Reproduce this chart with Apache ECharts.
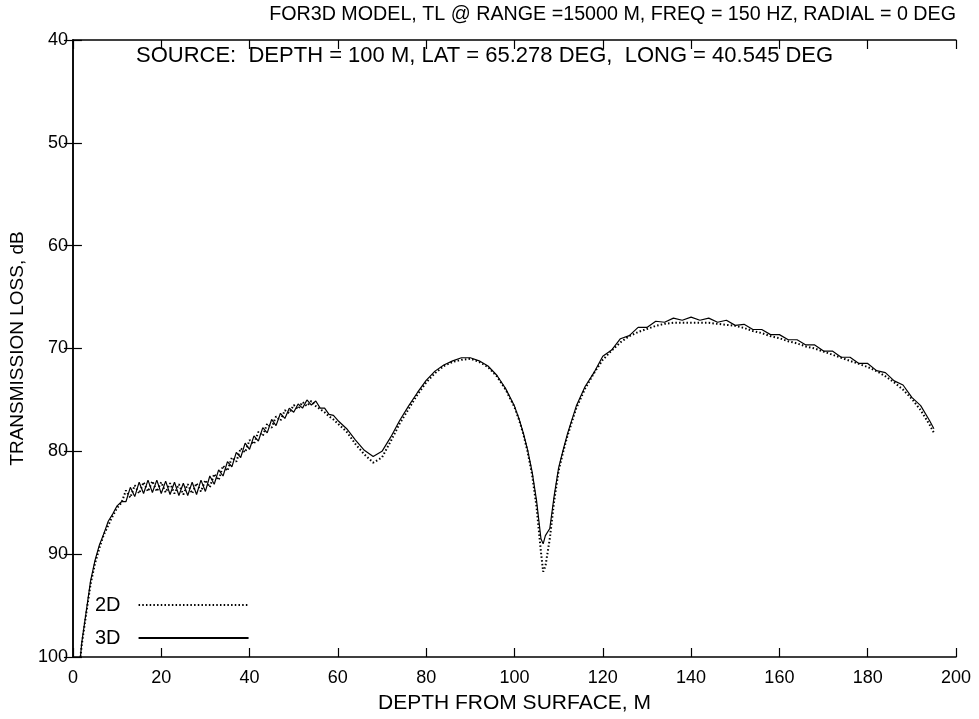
<!DOCTYPE html>
<html>
<head>
<meta charset="utf-8">
<script src="https://cdn.jsdelivr.net/npm/echarts@6/dist/echarts.min.js"></script>
<style>
html,body{margin:0;padding:0;background:#fff;}
#chart{width:979px;height:719px;}
</style>
</head>
<body>
<div id="chart"></div>
<script>
// ---- data ----
const depth = [1.7,2,3,4,5,6,7,8,9,10,11,12,13,14,15,16,17,18,19,20,21,22,23,24,25,26,27,28,29,30,
  31,32,33,34,35,36,37,38,39,40,41,42,43,44,45,46,47,48,49,50,51,52,53,54,55,56,57,58,59,60,
  62,64,66,68,70,72,74,76,78,80,82,84,86,88,90,92,94,96,98,100,101,102,103,104,105,106,106.5,107,108,109,110,111,112,
  114,116,118,120,122,124,126,128,130,132,134,136,138,140,142,144,146,148,150,152,154,156,158,160,
  162,164,166,168,170,172,174,176,178,180,182,184,186,188,190,192,194,195];

const tl3D = [100,98.6,95.6,92.6,90.6,89.1,88.0,86.8,86.1,85.3,84.9,84.9,83.5,84.4,83.0,84.1,82.8,84.0,82.8,84.1,
  82.9,84.2,83.0,84.3,83.1,84.3,83.0,84.2,82.8,83.9,
  82.4,83.2,81.8,82.4,81.0,81.5,80.1,80.6,79.2,79.8,78.5,79.0,77.7,78.2,76.9,77.5,76.3,76.8,75.8,76.2,
  75.4,75.8,75.0,75.5,75.1,75.8,75.8,76.4,76.5,77.0,
  77.8,78.9,79.9,80.5,80.0,78.6,77.0,75.6,74.3,73.1,72.2,71.6,71.2,70.9,70.9,71.2,71.7,72.6,73.9,75.6,
  76.8,78.2,79.9,82.0,84.8,88.5,89.0,88.2,87.5,84.3,81.6,79.9,78.3,
  75.6,73.7,72.35,70.75,70.15,69.05,68.75,67.95,67.95,67.35,67.45,67.05,67.25,66.95,67.25,67.05,67.45,67.25,67.75,67.65,
  68.15,68.15,68.65,68.65,69.15,69.15,69.65,69.65,70.25,70.25,70.85,70.85,71.45,71.45,72.15,72.35,73.15,73.55,74.75,75.55,77.0,77.8];

const tl2D = [100,98.8,95.8,92.9,90.9,89.4,88.1,87.2,86.3,85.5,85.0,83.8,84.5,83.3,84.1,83.0,83.9,82.9,83.9,83.0,
  84.0,83.1,84.1,83.2,84.2,83.2,84.1,83.1,83.9,82.8,
  83.5,82.2,82.8,81.4,81.9,80.6,81.0,79.7,80.1,78.9,79.3,78.1,78.5,77.3,77.7,76.6,77.0,76.0,76.3,75.5,
  75.9,75.2,75.6,75.1,75.6,75.9,76.2,76.6,76.9,77.3,
  78.1,79.3,80.3,81.1,80.6,79.0,77.3,75.9,74.5,73.3,72.4,71.7,71.3,71.1,71.0,71.3,71.8,72.7,74.0,75.7,
  76.9,78.3,80.1,82.3,85.4,89.8,91.7,91.2,88.5,84.8,81.9,80.1,78.5,
  75.8,73.9,72.4,71.1,70.2,69.4,68.8,68.4,68.1,67.8,67.6,67.5,67.5,67.5,67.5,67.5,67.6,67.7,67.8,68.0,
  68.3,68.5,68.8,69.0,69.3,69.5,69.8,70.0,70.3,70.6,70.9,71.2,71.5,71.8,72.2,72.7,73.3,74.0,74.9,76.0,77.4,78.2];

const xTicks = {min:0, max:200, interval:20};
const yTicks = {min:40, max:100, interval:10};
const titleText = 'FOR3D MODEL, TL @ RANGE =15000 M, FREQ = 150 HZ, RADIAL = 0 DEG';
const sourceText = 'SOURCE:  DEPTH = 100 M, LAT = 65.278 DEG,  LONG = 40.545 DEG';
const xName = 'DEPTH FROM SURFACE, M';
const yName = 'TRANSMISSION LOSS, dB';
const seriesNames = ['2D','3D'];

// ---- chart ----
const FONT = '"Liberation Sans",Arial,sans-serif';
const chart = echarts.init(document.getElementById('chart'), null, {renderer:'canvas'});
const axisLine = {show:true, lineStyle:{color:'#000', width:1.5}};
const tick = {show:true, inside:true, length:9, lineStyle:{color:'#000', width:1.2}};
const pairs = (ys) => depth.map((d,i)=>[d, ys[i]]);

chart.setOption({
  animation:false,
  backgroundColor:'#fff',
  textStyle:{fontFamily:FONT, color:'#000'},
  title:[
    {text:titleText, right:23, top:5, padding:0,
     textStyle:{fontFamily:FONT, fontSize:19.7, fontWeight:'normal', color:'#000'}},
    {text:sourceText, left:136, top:45, padding:0,
     textStyle:{fontFamily:FONT, fontSize:22, fontWeight:'normal', color:'#000'}}
  ],
  grid:{left:72, right:23, top:40, bottom:55},
  legend:{
    orient:'vertical', left:90, top:590, align:'right',
    itemWidth:110, itemHeight:2, itemGap:13,
    itemStyle:{opacity:0},
    textStyle:{fontFamily:FONT, fontSize:20, color:'#000', padding:[0,13,0,0]},
    data:seriesNames
  },
  xAxis:[
    {type:'value', ...xTicks, position:'bottom',
     axisLine, axisTick:tick, splitLine:{show:false},
     axisLabel:{color:'#000', fontSize:18, fontFamily:FONT, margin:12},
     name:xName, nameLocation:'middle', nameGap:36,
     nameTextStyle:{fontSize:21, fontFamily:FONT, color:'#000'}},
    {type:'value', ...xTicks, position:'top',
     axisLine, axisTick:tick, axisLabel:{show:false}, splitLine:{show:false}}
  ],
  yAxis:[
    {type:'value', ...yTicks, inverse:true, position:'left',
     axisLine, axisTick:tick, splitLine:{show:false},
     axisLabel:{color:'#000', fontSize:18, fontFamily:FONT, margin:5},
     name:yName, nameLocation:'middle', nameGap:44, nameRotate:90,
     nameTextStyle:{fontSize:19, fontFamily:FONT, color:'#000'}},
    {type:'value', ...yTicks, inverse:true, position:'right',
     axisLine, axisTick:tick, axisLabel:{show:false}, splitLine:{show:false}}
  ],
  series:[
    {name:seriesNames[0], type:'line', data:pairs(tl2D), showSymbol:false, symbol:'none',
     lineStyle:{color:'#000', width:2, type:[1.5,2.2]}, itemStyle:{color:'#000'}, z:3},
    {name:seriesNames[1], type:'line', data:pairs(tl3D), showSymbol:false, symbol:'none',
     lineStyle:{color:'#000', width:1.2, type:'solid'}, itemStyle:{color:'#000'}, z:4}
  ]
});
</script>
</body>
</html>
